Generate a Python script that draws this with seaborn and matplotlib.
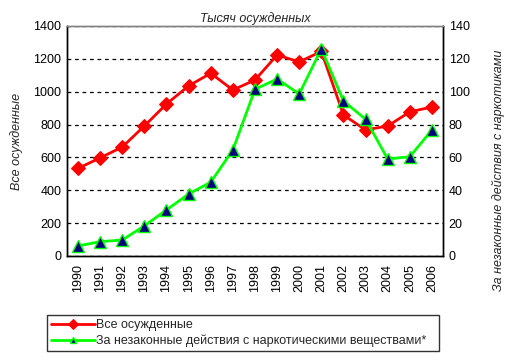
import matplotlib
matplotlib.use("Agg")
import matplotlib.pyplot as plt
import seaborn as sns
import pandas as pd

years = [1990, 1991, 1992, 1993, 1994, 1995, 1996, 1997, 1998, 1999, 2000,
         2001, 2002, 2003, 2004, 2005, 2006]
all_convicted = [533, 597, 663, 791, 925, 1035, 1112, 1010, 1071, 1223, 1181,
                 1245, 858, 767, 791, 877, 907]
drug_convicted = [6.1, 8.7, 9.7, 18.3, 28.0, 37.7, 44.9, 64.5, 101.4, 107.7, 98.6,
                  126.0, 94.3, 83.2, 59.0, 60.4, 76.7]
label_all = "Все осужденные"
label_drug = "За незаконные действия с наркотическими веществами*"
title = "Тысяч осужденных"
ylabel_left = "Все осужденные"
ylabel_right = "За незаконные действия с наркотиками"

sns.set_style("white")
plt.rcParams['font.family'] = ['Liberation Sans', 'DejaVu Sans']
plt.rcParams['font.size'] = 9

df = pd.DataFrame({"pos": range(len(years)), "all": all_convicted, "drug": drug_convicted})

fig = plt.figure(figsize=(5.11, 3.6), dpi=100)
ax = fig.add_axes([0.131, 0.289, 0.736, 0.639])
ax2 = ax.twinx()

sns.lineplot(data=df, x="pos", y="all", ax=ax, color="#FF0000", marker="D",
             markersize=7, markeredgecolor="#FF0000", linewidth=2, label=label_all, legend=False)
sns.lineplot(data=df, x="pos", y="drug", ax=ax2, color="#00FF00", marker="^",
             markersize=8, markerfacecolor="#000080", markeredgecolor="#00FF00",
             markeredgewidth=1, linewidth=2, label=label_drug, legend=False)

ax.set_xlim(-0.5, len(years) - 0.5)
ax.set_ylim(0, 1400)
ax2.set_ylim(0, 140)
ax.set_yticks(range(0, 1401, 200))
ax2.set_yticks(range(0, 141, 20))
ax.set_xticks(range(len(years)))
ax.set_xticklabels([str(y) for y in years], rotation=90)

ax.yaxis.grid(True, linestyle=(0, (3, 3)), color="black", linewidth=0.9)
ax.set_axisbelow(True)

for a in (ax, ax2):
    a.spines['top'].set_color("#808080")
    a.spines['left'].set_color("black")
    a.spines['bottom'].set_color("black")
    a.spines['right'].set_color("black")
    for s in a.spines.values():
        s.set_linewidth(1)
    a.tick_params(axis='both', which='both', length=0, labelsize=9, colors="black", pad=4)
ax.tick_params(axis='x', pad=6)

ax.set_xlabel("")
ax.set_ylabel(ylabel_left, fontstyle="italic", fontsize=9)
ax.yaxis.set_label_coords(-0.118, 0.5)
ax2.set_ylabel(ylabel_right, fontstyle="italic", fontsize=9, rotation=90)
ax2.yaxis.set_label_coords(1.13, 0.374)
ax.set_title(title, fontstyle="italic", fontsize=9, pad=3)

h1, l1 = ax.get_legend_handles_labels()
h2, l2 = ax2.get_legend_handles_labels()
leg = fig.legend(h1 + h2, l1 + l2, loc="lower left",
                 bbox_to_anchor=(0.092, 0.025, 0.767, 0.108), mode="expand",
                 frameon=True, fancybox=False, edgecolor="black", fontsize=9,
                 handlelength=3.5, borderaxespad=0, labelspacing=0.3, handletextpad=0.1,
                 borderpad=0.3)
leg.get_frame().set_linewidth(1)
for ln in leg.get_lines():
    ln.set_markersize(5)

fig.savefig("out.png", dpi=100)
